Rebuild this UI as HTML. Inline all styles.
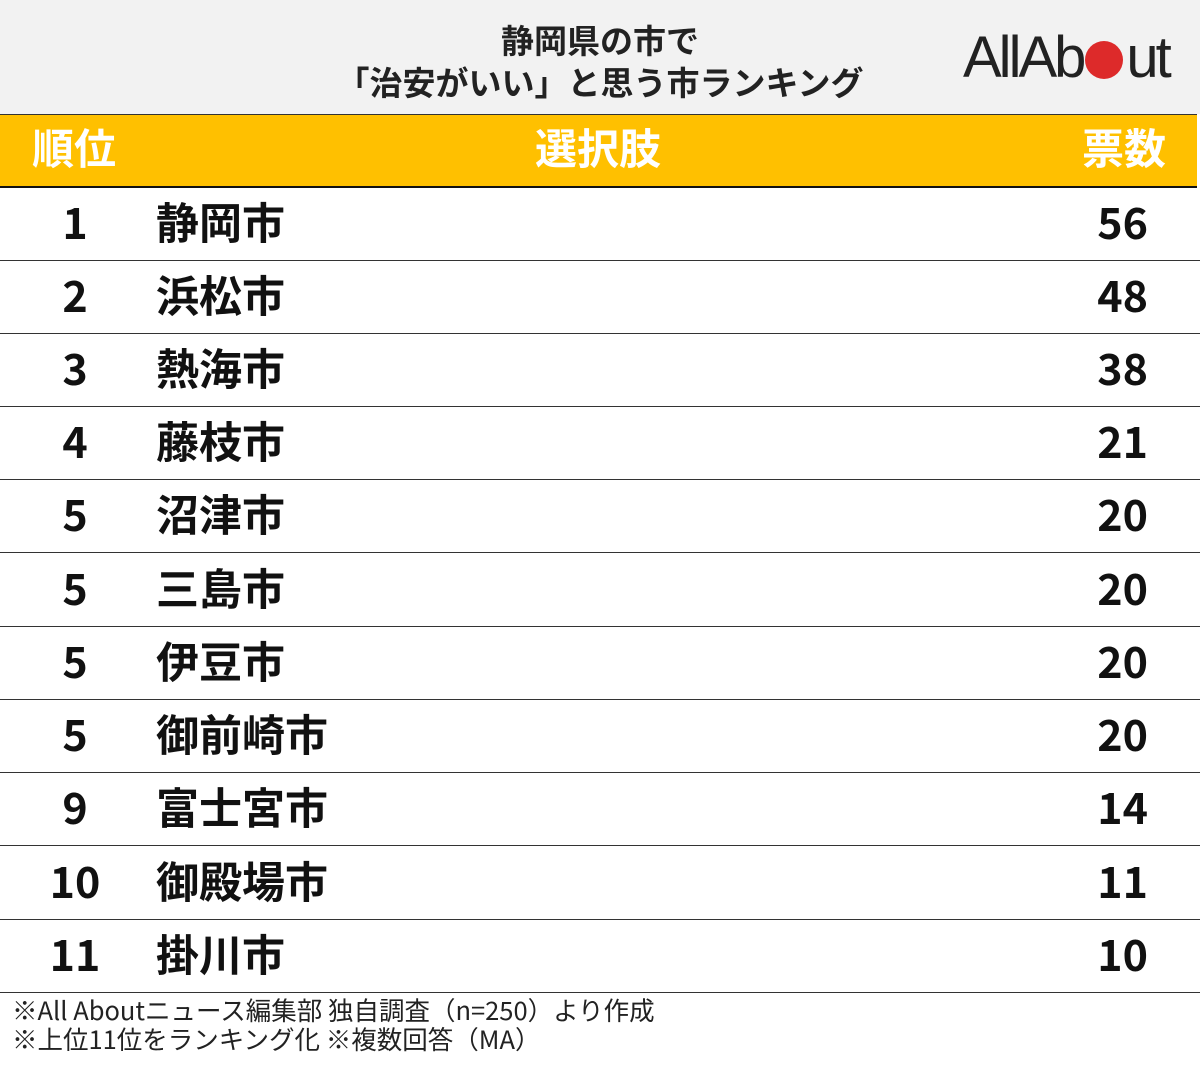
<!DOCTYPE html>
<html><head><meta charset="utf-8"><style>
body{margin:0;width:1200px;height:1068px;background:#fff;position:relative;overflow:hidden;font-family:"Noto Sans CJK JP",sans-serif;}
.top{position:absolute;left:0;top:0;width:1200px;height:114px;background:#f2f2f2;}
.title{position:absolute;left:200px;width:800px;top:18px;text-align:center;font-size:33px;font-weight:bold;line-height:42px;color:#222;}
.logo{position:absolute;left:963px;top:25px;font-size:58px;letter-spacing:-3px;color:#222;font-family:"Liberation Sans",sans-serif;line-height:66px;}
.logo .c{display:inline-block;width:38px;height:38px;border-radius:50%;background:#dd2a2a;vertical-align:-2px;margin:0 3px 0 2px;}
.hdr{position:absolute;left:0;top:114px;width:1197px;height:71px;background:#ffc000;border-top:1px solid #333;border-bottom:2px solid #111;color:#fff;font-weight:bold;font-size:42px;}
.hdr span{position:absolute;top:5px;line-height:54px;}
.row{position:absolute;left:0;width:1200px;height:72px;border-bottom:1px solid #333;font-weight:bold;font-size:43px;color:#111;}
.row span{position:absolute;top:5px;line-height:56px;}
.r{left:30px;width:90px;text-align:center;}
.n{left:156px;}
.v{right:52px;}
.foot{position:absolute;left:12px;top:995px;font-size:25.5px;line-height:29px;color:#222;}
</style></head><body>
<div class="top"></div>
<div class="title">静岡県の市で<br>「治安がいい」と思う市ランキング</div>
<div class="logo">AllAb<span class="c"></span>ut</div>
<div class="hdr"><span style="left:32px">順位</span><span style="left:535px">選択肢</span><span style="left:1082px">票数</span></div>
<div class="row" style="top:188px"><span class="r">1</span><span class="n">静岡市</span><span class="v">56</span></div>
<div class="row" style="top:261px"><span class="r">2</span><span class="n">浜松市</span><span class="v">48</span></div>
<div class="row" style="top:334px"><span class="r">3</span><span class="n">熱海市</span><span class="v">38</span></div>
<div class="row" style="top:407px"><span class="r">4</span><span class="n">藤枝市</span><span class="v">21</span></div>
<div class="row" style="top:480px"><span class="r">5</span><span class="n">沼津市</span><span class="v">20</span></div>
<div class="row" style="top:554px"><span class="r">5</span><span class="n">三島市</span><span class="v">20</span></div>
<div class="row" style="top:627px"><span class="r">5</span><span class="n">伊豆市</span><span class="v">20</span></div>
<div class="row" style="top:700px"><span class="r">5</span><span class="n">御前崎市</span><span class="v">20</span></div>
<div class="row" style="top:773px"><span class="r">9</span><span class="n">富士宮市</span><span class="v">14</span></div>
<div class="row" style="top:847px"><span class="r">10</span><span class="n">御殿場市</span><span class="v">11</span></div>
<div class="row" style="top:920px"><span class="r">11</span><span class="n">掛川市</span><span class="v">10</span></div>
<div class="foot">※All Aboutニュース編集部 独自調査（n=250）より作成<br>※上位11位をランキング化 ※複数回答（MA）</div>
</body></html>
